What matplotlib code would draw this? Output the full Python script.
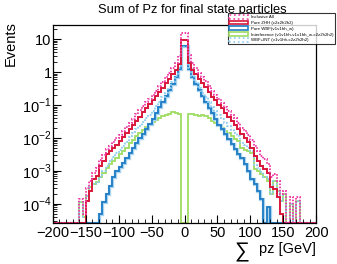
import numpy as np
import matplotlib
matplotlib.use("Agg")
import matplotlib.pyplot as plt
from matplotlib.patches import Patch

plt.rcParams['font.family'] = ['Liberation Sans', 'DejaVu Sans']
plt.rcParams['mathtext.fontset'] = 'custom'
plt.rcParams['mathtext.rm'] = 'Liberation Sans'

# 80 bins of 5 GeV from -200 to 200, values stored as log10(events), None = empty / negative bin
edges = np.arange(-200, 205, 5)

inclusive_log = [None, None, None, None, None, None, None, None,
                 -3.85, -4.3, -3.52, -3.3, -3.05, -2.92, -2.68, -2.52, -2.34, -2.23, -2.12, -2.01,
                 -1.91, -1.79, -1.67, -1.53, -1.41, -1.28, -1.16, -1.04, -0.92, -0.81,
                 -0.69, -0.56, -0.42, -0.29, -0.15, -0.02, 0.14, 0.29, 0.5, 1.18,
                 1.19, 0.51, 0.28, 0.13, -0.02, -0.16, -0.28, -0.42, -0.56, -0.69,
                 -0.82, -0.93, -1.05, -1.17, -1.29, -1.4, -1.53, -1.7, -1.8, -1.9,
                 -2.05, -2.25, -2.4, -2.55, -2.65, -2.8, -3.2, -3.1, -3.3, -3.7,
                 -3.6, None, -3.8, None, -3.8, None, None, None, None, None]

zhh_log = [None, None, None, None, None, None, None, None,
           None, None, -3.9, -3.6, -3.25, -3.15, -2.85, -2.7, -2.5, -2.4, -2.3, -2.2,
           -2.1, -1.98, -1.85, -1.72, -1.6, -1.47, -1.35, -1.22, -1.1, -0.98,
           -0.86, -0.73, -0.6, -0.47, -0.33, -0.2, -0.06, 0.08, 0.26, 0.97,
           0.98, 0.27, 0.07, -0.07, -0.2, -0.34, -0.46, -0.6, -0.74, -0.86,
           -0.99, -1.1, -1.23, -1.36, -1.48, -1.6, -1.74, -1.87, -2.0, -2.12,
           -2.3, -2.55, -2.7, -2.85, -2.95, -3.05, -3.5, -3.55, -3.8, -4.3,
           None, None, None, None, None, None, None, None, None, None]

wbf_log = [None, None, None, None, None, None, None, None,
           None, None, None, None, None, None, -4.3, -3.95, -3.7, -3.45, -3.2, -3.0,
           -2.88, -2.75, -2.6, -2.45, -2.3, -2.15, -2.0, -1.87, -1.72, -1.58,
           -1.42, -1.25, -1.07, -0.9, -0.72, -0.55, -0.35, -0.15, 0.1, 0.79,
           0.8, 0.11, -0.16, -0.36, -0.55, -0.73, -0.9, -1.08, -1.25, -1.42,
           -1.6, -1.74, -1.88, -2.02, -2.17, -2.32, -2.48, -2.62, -2.8, -3.0,
           -3.25, -3.4, -3.6, -3.86, None, -4.1, None, None, None, None,
           None, None, None, None, None, None, None, None, None, None]

interf_log = [None, None, None, None, None, None, None, None,
              -3.95, -4.4, -3.75, -3.5, -3.4, -3.35, -3.2, -3.05, -2.9, -2.8, -2.7, -2.6,
              -2.5, -2.4, -2.3, -2.15, -2.05, -1.95, -1.85, -1.76, -1.68, -1.6,
              -1.52, -1.45, -1.38, -1.33, -1.3, -1.28, -1.22, -1.25, -1.27, None,
              None, -1.27, -1.26, -1.3, -1.32, -1.3, -1.34, -1.4, -1.47, -1.55,
              -1.62, -1.7, -1.78, -1.86, -1.95, -2.03, -2.1, -2.3, -2.35, -2.4,
              -2.45, -2.95, -3.0, -3.1, -3.2, -3.3, -3.7, -3.3, -3.6, -3.9,
              -3.7, None, -4.0, None, -3.9, None, None, None, None, None]

wbfint_log = [None, None, None, None, None, None, None, None,
              -3.95, -4.4, -3.75, -3.5, -3.4, -3.35, -3.17, -3.0, -2.84, -2.71, -2.58, -2.46,
              -2.35, -2.24, -2.12, -1.97, -1.86, -1.74, -1.62, -1.51, -1.4, -1.29,
              -1.17, -1.04, -0.9, -0.76, -0.62, -0.48, -0.3, -0.11, 0.12, 0.77,
              0.78, 0.13, -0.12, -0.31, -0.48, -0.62, -0.76, -0.91, -1.05, -1.19,
              -1.31, -1.42, -1.53, -1.63, -1.75, -1.85, -1.95, -2.15, -2.22, -2.3,
              -2.39, -2.82, -2.9, -3.03, -3.2, -3.24, -3.7, -3.3, -3.6, -3.9,
              -3.7, None, -4.0, None, -3.9, None, None, None, None, None]

labels = ["Inclusive All",
          "Pure ZHH (c2z2h2h2)",
          "Pure WBF(v1v1hh_w)",
          "Interference (v1v1hh-v1v1hh_w-c2z2h2h2)",
          "WBF+INT (v1v1hh-c2z2h2h2)"]

ymin, ymax = 2.6e-5, 27


def to_counts(logvals):
    return np.array([ymin if v is None else 10.0 ** v for v in logvals])


fig = plt.figure(figsize=(3.37, 2.64), dpi=100)
ax = fig.add_axes([0.157, 0.155, 0.781, 0.75])

c_incl = '#ee3fa6'
c_zhh = '#d8163a'
c_wbf = '#1f7cc4'
c_int = '#9edc62'
c_wi = '#8ccdf0'

ax.stairs(to_counts(interf_log), edges, color=c_int, lw=1.3, baseline=None)
ax.stairs(to_counts(wbf_log), edges, color='#a8d4f0', lw=2.4, baseline=None)
ax.stairs(to_counts(wbf_log), edges, color=c_wbf, lw=1.3, baseline=None)
ax.stairs(to_counts(wbfint_log), edges, color=c_wi, lw=1.3, ls=(0, (1, 1)), baseline=None)
ax.stairs(to_counts(zhh_log), edges, color=c_zhh, lw=1.4, baseline=None)
ax.stairs(to_counts(inclusive_log), edges, color=c_incl, lw=1.4, ls=(0, (0.8, 0.8)), baseline=None)

ax.set_yscale('log')
ax.set_xlim(-200, 200)
ax.set_ylim(ymin, ymax)
ax.set_xticks(np.arange(-200, 201, 50))
ax.set_xticks(np.arange(-200, 201, 10), minor=True)
ax.set_yticks([1e-4, 1e-3, 1e-2, 1e-1, 1, 10])
ax.set_yticklabels([r'$10^{-4}$', r'$10^{-3}$', r'$10^{-2}$', r'$10^{-1}$', '1', '10'])
ax.tick_params(which='both', direction='in', labelsize=10.5, top=False, right=False)
ax.tick_params(axis='x', pad=2)
ax.tick_params(axis='y', pad=1)
ax.tick_params(which='major', length=6, width=0.8)
ax.tick_params(which='minor', length=3, width=0.6)
for sp in ax.spines.values():
    sp.set_linewidth(0.9)

fig.text(0.57, 0.985, "Sum of Pz for final state particles", ha='center', va='top', fontsize=9.3)
fig.text(0.01, 0.92, "Events", rotation=90, ha='left', va='top', fontsize=10.5)
fig.text(0.695, 0.0, r"$\sum$", ha='left', va='bottom', fontsize=15)
fig.text(0.938, 0.03, "pz [GeV]", ha='right', va='bottom', fontsize=10.5)

handles = [Patch(facecolor='white', edgecolor=c_incl, ls=':', lw=1.2),
           Patch(facecolor='white', edgecolor=c_zhh, lw=1.2),
           Patch(facecolor='white', edgecolor=c_wbf, lw=1.2),
           Patch(facecolor='white', edgecolor=c_int, lw=1.2),
           Patch(facecolor='white', edgecolor=c_wi, ls=':', lw=1.2)]
leg = fig.legend(handles, labels, loc='upper left', bbox_to_anchor=(0.676, 0.95),
                 fontsize=3.2, frameon=True, fancybox=False, edgecolor='black',
                 handlelength=4.2, handleheight=0.95, labelspacing=0.3,
                 borderpad=0.35, borderaxespad=0, handletextpad=0.6)
leg.get_frame().set_linewidth(0.8)

fig.savefig('out.png', dpi=100)
